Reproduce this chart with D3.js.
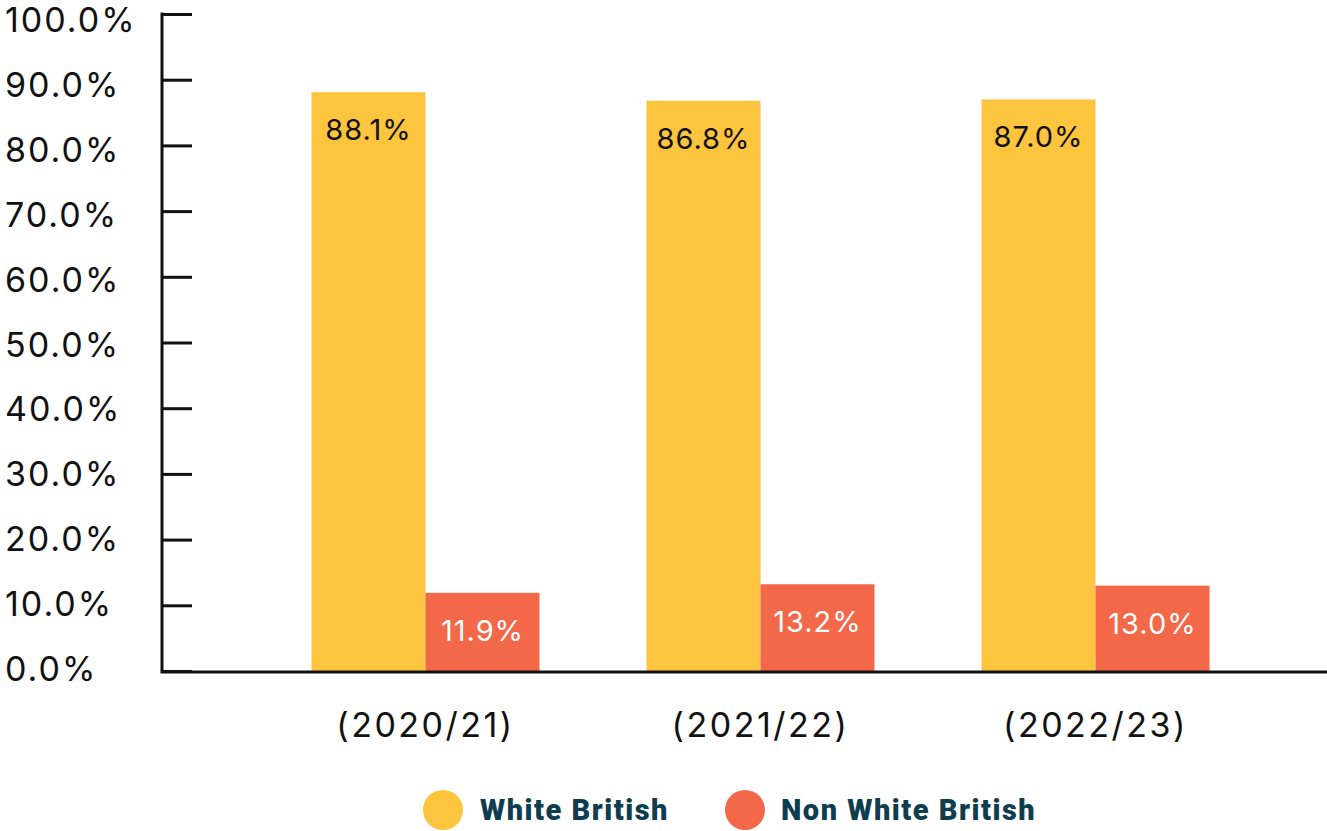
<!DOCTYPE html>
<html>
<head>
<meta charset="utf-8">
<script src="https://cdn.jsdelivr.net/npm/d3@7"></script>
<style>
  html, body { margin: 0; padding: 0; background: #fff; }
  svg { display: block; }
</style>
</head>
<body>
<svg id="chart" width="1327" height="831"></svg>
<script>
// Ethnicity split by academic year
const years = ["(2020/21)", "(2021/22)", "(2022/23)"];
const seriesNames = ["White British", "Non White British"];
const whiteBritish = [88.1, 86.8, 87.0];
const nonWhiteBritish = [11.9, 13.2, 13.0];
const yTicks = [0, 10, 20, 30, 40, 50, 60, 70, 80, 90, 100];
const colors = ["#FDC43D", "#F26849"];
const labelColors = ["#111111", "#ffffff"];

const svg = d3.select("#chart");
const font = "Inter, 'Noto Sans', sans-serif";

const yAxisX = 162;
const y = d3.scaleLinear().domain([0, 100]).range([671, 14]);
// tick label baselines sit on a slightly tighter ladder than the ticks
const yLabel = d3.scaleLinear().domain([0, 100]).range([681, 32]);
const x0 = d3.scaleBand().domain(years).range([258, 1263]);
const x1 = d3.scaleBand().domain(seriesNames).range([0, 228]);
const groupOffset = (x0.bandwidth() - x1.range()[1]) / 2;

const rows = years.map((yr, i) => ({
  year: yr,
  values: [
    { key: seriesNames[0], v: whiteBritish[i], idx: 0 },
    { key: seriesNames[1], v: nonWhiteBritish[i], idx: 1 }
  ]
}));

// bars
const groups = svg.append("g").selectAll("g").data(rows).join("g")
  .attr("transform", d => `translate(${x0(d.year) + groupOffset},0)`);

groups.selectAll("rect").data(d => d.values).join("rect")
  .attr("x", d => x1(d.key))
  .attr("width", x1.bandwidth())
  .attr("y", d => y(d.v))
  .attr("height", d => y(0) - y(d.v))
  .attr("fill", d => colors[d.idx]);

groups.selectAll("text").data(d => d.values).join("text")
  .attr("x", d => x1(d.key) + x1.bandwidth() / 2)
  .attr("y", d => y(d.v) + 48)
  .attr("text-anchor", "middle")
  .attr("font-family", font)
  .attr("font-size", 29)
  .attr("letter-spacing", 1)
  .attr("fill", d => labelColors[d.idx])
  .text(d => d.v.toFixed(1) + "%");

// y axis
const yAxis = d3.axisRight(y).tickValues(yTicks).tickSize(30).tickFormat("");
const yg = svg.append("g").attr("transform", `translate(${yAxisX},0)`).call(yAxis);
yg.select(".domain").attr("stroke", "#111").attr("stroke-width", 3)
  .attr("d", `M0,${y(100) - 1.5}V${y(0)}`);
yg.selectAll(".tick line").attr("stroke", "#111").attr("stroke-width", 3);

svg.append("g").selectAll("text").data(yTicks).join("text")
  .attr("x", 5)
  .attr("y", d => yLabel(d))
  .attr("font-family", font)
  .attr("font-size", 34)
  .attr("letter-spacing", 2)
  .attr("fill", "#111")
  .text(d => d.toFixed(1) + "%");

// x axis baseline
svg.append("line")
  .attr("x1", yAxisX - 1.5).attr("x2", 1327)
  .attr("y1", y(0) + 1).attr("y2", y(0) + 1)
  .attr("stroke", "#111").attr("stroke-width", 3);

// category labels
svg.append("g").selectAll("text").data(years).join("text")
  .attr("x", d => x0(d) + x0.bandwidth() / 2)
  .attr("y", 737)
  .attr("text-anchor", "middle")
  .attr("font-family", font)
  .attr("font-size", 34)
  .attr("letter-spacing", 2.5)
  .attr("fill", "#111")
  .text(d => d);

// legend
const legendItems = [
  { name: seriesNames[0], cx: 443, tx: 480, color: colors[0] },
  { name: seriesNames[1], cx: 745, tx: 781, color: colors[1] }
];
const lg = svg.append("g");
lg.selectAll("circle").data(legendItems).join("circle")
  .attr("cx", d => d.cx).attr("cy", 810).attr("r", 20)
  .attr("fill", d => d.color);
lg.selectAll("text").data(legendItems).join("text")
  .attr("x", d => d.tx).attr("y", 820)
  .attr("font-family", "Roboto, 'Noto Sans', sans-serif")
  .attr("font-weight", 900)
  .attr("font-size", 29)
  .attr("letter-spacing", 1.5)
  .attr("fill", "#0f3d50")
  .text(d => d.name);
</script>
</body>
</html>
